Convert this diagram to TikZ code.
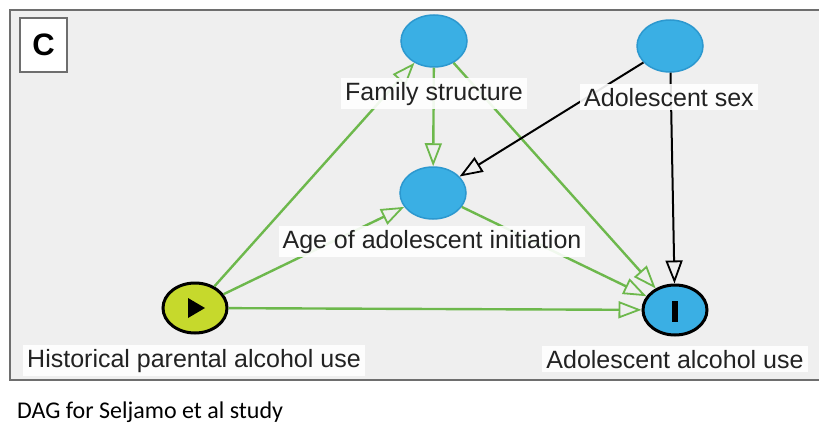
\documentclass[tikz,border=0pt]{standalone}
\usepackage{fontspec}
\setmainfont{Liberation Sans}
\newfontfamily\captionfont{Carlito}
\usetikzlibrary{arrows.meta,shapes.geometric}

\definecolor{panelbg}{HTML}{EFEFEF}
\definecolor{framegray}{HTML}{6E6E6E}
\definecolor{nodeblue}{HTML}{3AAFE4}
\definecolor{nodeblueedge}{HTML}{2C98CF}
\definecolor{exposurefill}{HTML}{C6D92C}
\definecolor{edgegreen}{HTML}{6DB84C}
\definecolor{labeltext}{HTML}{222222}

\begin{document}
\begin{tikzpicture}[x=1pt,y=-1pt,
  var/.style={ellipse, inner sep=0pt, minimum width=66pt, minimum height=52pt,
    fill=nodeblue, draw=nodeblueedge, line width=1.5pt},
  keyvar/.style={ellipse, inner sep=0pt, minimum width=64pt, minimum height=50pt,
    draw=black, line width=3pt},
  lbl/.style={fill=white, fill opacity=0.9, text opacity=1, inner xsep=4pt,
    inner ysep=4pt, anchor=base, text=labeltext,
    font=\fontsize{25}{28}\selectfont},
  causal/.style={draw=edgegreen, line width=2.4pt,
    -{Triangle[open, length=23pt, width=17pt, line width=1.8pt]}},
  plain/.style={draw=black, line width=2pt,
    -{Triangle[open, length=23pt, width=17pt, line width=1.8pt]}},
]
\useasboundingbox (0,0) rectangle (819,423);
\fill[white] (0,0) rectangle (819,423);

% panel
\fill[panelbg] (10,10) rectangle (819,380);
\draw[framegray, line width=2pt] (819,10) -- (10,10) -- (10,380) -- (819,380);
\node[draw=framegray, fill=white, line width=1.5pt, minimum width=47pt,
  minimum height=54pt, inner sep=0pt,
  font=\bfseries\fontsize{31}{31}\selectfont] (tag) at (43.5,45) {C};

% variables
\node[var] (fam) at (434,41) {};
\node[var] (sex) at (670,46) {};
\node[var] (age) at (433,193) {};
\node[keyvar, fill=exposurefill] (hist) at (195,308) {};
\node[keyvar, fill=nodeblue] (alc) at (675,310) {};

% exposure / outcome markers
\fill[black] (188,298) -- (205,308) -- (188,318) -- cycle;
\fill[black] (671.5,301) rectangle (677.5,322);

% causal paths
\draw[causal] (hist) -- (fam);
\draw[causal] (hist) -- (age);
\draw[causal] (hist) -- (alc);
\draw[causal] (fam) -- (age);
\draw[causal] (fam) -- (alc);
\draw[causal] (age) -- (alc);
\draw[plain] (sex) -- (age);
\draw[plain] (sex) -- (alc);

% labels
\node[lbl] (famlbl) at (434,100) {Family structure};
\node[lbl] (sexlbl) at (669,106) {Adolescent sex};
\node[lbl] (agelbl) at (432,248) {Age of adolescent initiation};
\node[lbl] (histlbl) at (194,367) {Historical parental alcohol use};
\node[lbl] (alclbl) at (675,368) {Adolescent alcohol use};

% caption
\node[anchor=base west, inner sep=0pt, text=black,
  font=\captionfont\fontsize{24}{26}\selectfont] (caption) at (17,418)
  {DAG for Seljamo et al study};
\end{tikzpicture}
\end{document}
